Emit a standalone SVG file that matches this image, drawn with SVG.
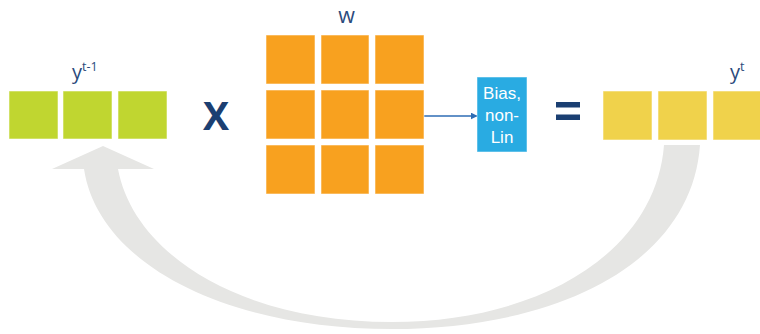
<svg xmlns="http://www.w3.org/2000/svg" width="760" height="334" viewBox="0 0 760 334">
  <defs>
    <style>
      .lbl { font-family: "Open Sans", "Liberation Sans", sans-serif; fill: #2b4a7c; }
      .op { font-family: "Open Sans", "Liberation Sans", sans-serif; font-weight: bold; fill: #1b3f72; }
      .cell { stroke: #ffffff; stroke-opacity: 0.55; stroke-width: 1; }
      .green { fill: #c0d630; }
      .orange { fill: #f8a11f; }
      .yellow { fill: #f0d24b; }
      .bias-text { font-family: "Liberation Sans", "Open Sans", sans-serif; font-size: 17px; fill: #ffffff; text-anchor: middle; }
    </style>
    <marker id="arrowHead" viewBox="0 0 10 10" refX="9" refY="5" markerWidth="7" markerHeight="7" markerUnits="userSpaceOnUse" orient="auto">
      <path d="M0,0 L10,5 L0,10 z" fill="#2e6db4"/>
    </marker>
  </defs>

  <rect width="760" height="334" fill="#ffffff"/>

  <!-- recurrent feedback arrow from y(t) back to y(t-1) -->
  <g id="connectors">
    <path id="feedback" fill="#e6e6e4"
          d="M664,145 L700,145 C692,262 560,329 392,329 C222,329 98,262 84,169 L52,169 L103,146 L154,169 L118,169 C134,254 240,322 392,322 C540,322 656,252 664,145 Z"/>
    <line id="w-to-bias" x1="424" y1="116" x2="477" y2="116" stroke="#2e6db4" stroke-width="1.3" marker-end="url(#arrowHead)"/>
  </g>

  <!-- previous state vector -->
  <g id="y-prev">
    <rect class="cell green" x="9" y="91" width="49" height="48"/>
    <rect class="cell green" x="63" y="91" width="49" height="48"/>
    <rect class="cell green" x="118" y="91" width="49" height="48"/>
    <text class="lbl" x="72" y="78.5" font-size="20">y<tspan font-size="12.5" dy="-8">t-1</tspan></text>
  </g>

  <g id="times">
    <text class="op" x="216" y="130" font-size="39" text-anchor="middle">X</text>
  </g>

  <!-- weight matrix -->
  <g id="weights">
    <rect class="cell orange" x="266" y="35" width="49" height="49"/>
    <rect class="cell orange" x="321" y="35" width="48" height="49"/>
    <rect class="cell orange" x="375" y="35" width="49" height="49"/>
    <rect class="cell orange" x="266" y="90" width="49" height="49"/>
    <rect class="cell orange" x="321" y="90" width="48" height="49"/>
    <rect class="cell orange" x="375" y="90" width="49" height="49"/>
    <rect class="cell orange" x="266" y="145" width="49" height="49"/>
    <rect class="cell orange" x="321" y="145" width="48" height="49"/>
    <rect class="cell orange" x="375" y="145" width="49" height="49"/>
    <text class="lbl" x="346.5" y="23" font-size="21.5" text-anchor="middle">w</text>
  </g>

  <g id="bias">
    <rect x="477" y="77" width="50" height="75" fill="#29abe2" stroke="#ffffff" stroke-opacity="0.5" stroke-width="1"/>
    <text class="bias-text" x="502" y="99">Bias,</text>
    <text class="bias-text" x="502" y="120.5">non-</text>
    <text class="bias-text" x="502" y="142.5">Lin</text>
  </g>

  <g id="equals">
    <rect x="556" y="102" width="24" height="5.5" fill="#1b3f72"/>
    <rect x="556" y="114.5" width="24" height="5.5" fill="#1b3f72"/>
  </g>

  <!-- current state vector -->
  <g id="y-cur">
    <rect class="cell yellow" x="603" y="91" width="49" height="49"/>
    <rect class="cell yellow" x="658" y="91" width="49" height="49"/>
    <rect class="cell yellow" x="713" y="91" width="49" height="49"/>
    <text class="lbl" x="730" y="78.5" font-size="20">y<tspan font-size="12.5" dy="-8">t</tspan></text>
  </g>
</svg>
